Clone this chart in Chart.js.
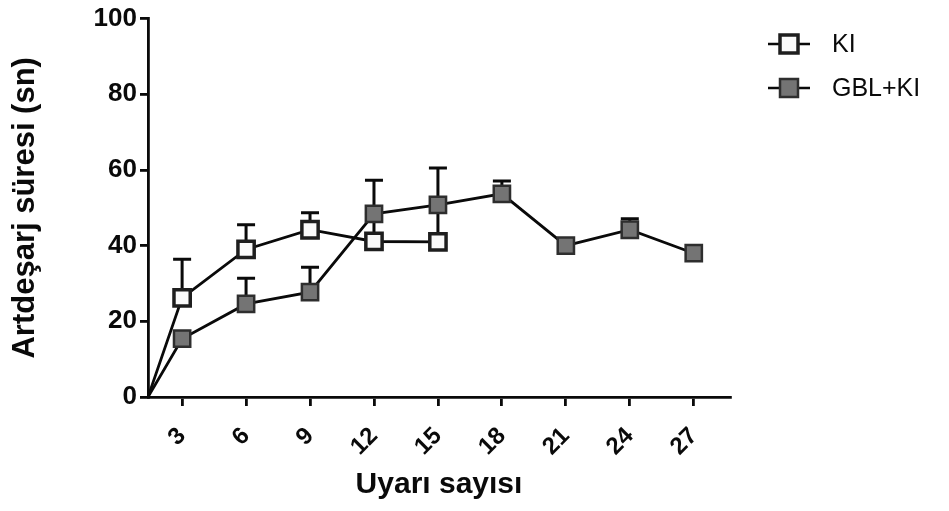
<!DOCTYPE html>
<html>
<head>
<meta charset="utf-8">
<script src="https://cdn.jsdelivr.net/npm/chart.js@4"></script>
<style>
  html, body { margin: 0; padding: 0; background: #fff; }
  #wrap { width: 949px; height: 511px; }
</style>
</head>
<body>
<div id="wrap"><canvas id="chart" width="949" height="511"></canvas></div>
<script>
// ------------------ data ------------------
const xStart = 1.4;            // axis origin, both lines start here at 0
const xEnd = 28.7;
const stimulusTicks = [3, 6, 9, 12, 15, 18, 21, 24, 27];
const yTicks = [0, 20, 40, 60, 80, 100];

const kiStimuli = [3, 6, 9, 12, 15];
const kiMean = [26.2, 39.0, 44.2, 41.1, 41.0];
const kiErr = [10.2, 6.5, 4.5, 7.3, 9.7];

const gblStimuli = [3, 6, 9, 12, 15, 18, 21, 24, 27];
const gblMean = [15.4, 24.6, 27.7, 48.4, 50.8, 53.7, 40.0, 44.2, 38.0];
const gblErr = [0, 6.8, 6.6, 8.9, 9.7, 3.4, 0, 2.9, 0];

const seriesNames = ["KI", "GBL+KI"];

const FONT = "'Liberation Sans', Arial, Helvetica, sans-serif";

function toPoints(xs, ys) {
    // every line begins at the origin
    return [{ x: xStart, y: 0 }].concat(xs.map((x, i) => ({ x, y: ys[i] })));
}

// upper error bars, drawn before the markers so squares sit on top
const errorBars = {
    id: "errorBars",
    beforeDatasetsDraw(chart) {
        const ctx = chart.ctx;
        const xs = chart.scales.x, ys = chart.scales.y;
        const sets = [[kiStimuli, kiMean, kiErr], [gblStimuli, gblMean, gblErr]];
        ctx.save();
        ctx.strokeStyle = "#0a0a0a";
        ctx.lineWidth = 3;
        sets.forEach(([sx, mean, err]) => {
            sx.forEach((x, i) => {
                if (!err[i]) return;
                const px = xs.getPixelForValue(x);
                const y0 = ys.getPixelForValue(mean[i]);
                const y1 = ys.getPixelForValue(mean[i] + err[i]);
                ctx.beginPath();
                ctx.moveTo(px, y0);
                ctx.lineTo(px, y1);
                ctx.moveTo(px - 9, y1);
                ctx.lineTo(px + 9, y1);
                ctx.stroke();
            });
        });
        ctx.restore();
    }
};

// legend: short line with the marker, then the label
const sideLegend = {
    id: "sideLegend",
    afterDraw(chart) {
        const ctx = chart.ctx;
        ctx.save();
        chart.data.datasets.forEach((ds, i) => {
            const y = 44 + i * 44;
            ctx.strokeStyle = "#0a0a0a";
            ctx.lineWidth = 2.6;
            ctx.beginPath();
            ctx.moveTo(768, y);
            ctx.lineTo(810, y);
            ctx.stroke();
            ctx.fillStyle = ds.pointBackgroundColor;
            ctx.strokeStyle = ds.pointBorderColor;
            ctx.lineWidth = ds.pointBorderWidth;
            ctx.fillRect(780, y - 9, 18, 18);
            ctx.strokeRect(780, y - 9, 18, 18);
            ctx.fillStyle = "#0a0a0a";
            ctx.font = "25px " + FONT;
            ctx.textBaseline = "middle";
            ctx.textAlign = "left";
            ctx.fillText(seriesNames[i], 832, y + 1);
        });
        ctx.restore();
    }
};

function renderChart() {
    new Chart(document.getElementById("chart"), {
        type: "line",
        data: {
            datasets: [{
                label: seriesNames[0],
                data: toPoints(kiStimuli, kiMean),
                borderColor: "#0a0a0a",
                borderWidth: 2.8,
                pointStyle: "rect",
                pointRadius: [0].concat(kiStimuli.map(() => 11.5)),
                pointBackgroundColor: "#fafafa",
                pointBorderColor: "#1e1e1e",
                pointBorderWidth: 3.5,
                tension: 0
            }, {
                label: seriesNames[1],
                data: toPoints(gblStimuli, gblMean),
                borderColor: "#0a0a0a",
                borderWidth: 2.8,
                pointStyle: "rect",
                pointRadius: [0].concat(gblStimuli.map(() => 11.5)),
                pointBackgroundColor: "#747474",
                pointBorderColor: "#2e2e2e",
                pointBorderWidth: 2.5,
                tension: 0
            }]
        },
        options: {
            responsive: false,
            animation: false,
            layout: { padding: { top: 0, right: 219, bottom: 0, left: 0 } },
            plugins: {
                legend: { display: false },
                tooltip: { enabled: false }
            },
            scales: {
                x: {
                    type: "linear",
                    min: xStart,
                    max: xEnd,
                    afterBuildTicks: s => { s.ticks = stimulusTicks.map(v => ({ value: v })); },
                    afterFit: s => { s.height = 114; },
                    border: { display: true, color: "#0a0a0a", width: 2.8 },
                    grid: { display: true, drawOnChartArea: false, drawTicks: true, tickLength: 9, color: "#0a0a0a", lineWidth: 2.8 },
                    ticks: {
                        autoSkip: false,
                        minRotation: 45,
                        maxRotation: 45,
                        padding: 16,
                        color: "#0a0a0a",
                        font: { family: FONT, size: 24, weight: "bold" }
                    },
                    title: {
                        display: true,
                        text: "Uyarı sayısı",
                        color: "#0a0a0a",
                        padding: { top: 0, bottom: 8 },
                        font: { family: FONT, size: 30, weight: "bold" }
                    }
                },
                y: {
                    min: 0,
                    max: 100,
                    afterBuildTicks: s => { s.ticks = yTicks.map(v => ({ value: v })); },
                    afterFit: s => { s.width = 148; },
                    border: { display: true, color: "#0a0a0a", width: 2.8 },
                    grid: { display: true, drawOnChartArea: false, drawTicks: true, tickLength: 8, color: "#0a0a0a", lineWidth: 2.8 },
                    ticks: {
                        padding: 3,
                        color: "#0a0a0a",
                        font: { family: FONT, size: 26, weight: "bold" }
                    },
                    title: {
                        display: true,
                        text: "Artdeşarj süresi (sn)",
                        color: "#0a0a0a",
                        padding: { top: 7, bottom: 0 },
                        font: { family: FONT, size: 31, weight: "bold" }
                    }
                }
            }
        },
        plugins: [errorBars, sideLegend]
    });
}

document.addEventListener("DOMContentLoaded", () => {
    renderChart();
});
</script>
</body>
</html>
